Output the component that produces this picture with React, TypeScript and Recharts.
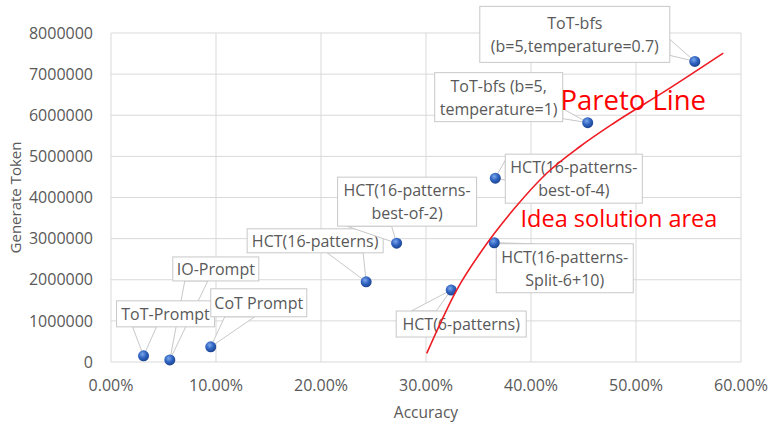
import React from 'react';
import { ScatterChart, Scatter, XAxis, YAxis, CartesianGrid, Label } from 'recharts';

// ---------- data ----------
const METHODS = [
  'ToT-Prompt',
  'IO-Prompt',
  'CoT Prompt',
  'HCT(16-patterns)',
  'HCT(16-patterns-\nbest-of-2)',
  'HCT(6-patterns)',
  'HCT(16-patterns-\nSplit-6+10)',
  'HCT(16-patterns-\nbest-of-4)',
  'ToT-bfs (b=5,\ntemperature=1)',
  'ToT-bfs\n(b=5,temperature=0.7)',
];
const ACCURACY = [0.031, 0.056, 0.095, 0.243, 0.272, 0.324, 0.365, 0.366, 0.454, 0.556];
const TOKENS = [150000, 50000, 370000, 1950000, 2890000, 1750000, 2900000, 4470000, 5820000, 7310000];

const PARETO_ACC = [0.3007, 0.3292, 0.3546, 0.3831, 0.415, 0.4467, 0.4784, 0.5292, 0.5831];
const PARETO_TOK = [210000, 1750000, 2760000, 3700000, 4590000, 5240000, 5800000, 6610000, 7510000];

const ANNOT_TEXT = ['Pareto Line', 'Idea solution area'];
const ANNOT_ACC = [0.428, 0.39];
const ANNOT_TOK = [6130000, 3280000];

const X_TICKS = [0, 0.1, 0.2, 0.3, 0.4, 0.5, 0.6];
const Y_TICKS = [0, 1000000, 2000000, 3000000, 4000000, 5000000, 6000000, 7000000, 8000000];

// ---------- layout / style (pixel offsets relative to each point) ----------
// dx, dy: box top-left offset; w, h: box size; a, b: wedge base points
const CALLOUT_LAYOUT = [
  { dx: -27, dy: -55, w: 98, h: 26, a: [-11, -29], b: [13, -29] },
  { dx: 3, dy: -103, w: 86, h: 24, a: [15, -79], b: [38, -79] },
  { dx: 0, dy: -58, w: 96, h: 28, a: [14, -30], b: [44, -30] },
  { dx: -119, dy: -53, w: 136, h: 24, a: [-39, -29], b: [-3, -29] },
  { dx: -59, dy: -66, w: 139, h: 49, a: [-50, -17], b: [-5, -17] },
  { dx: -55, dy: 21, w: 130, h: 26, a: [-40, 21], b: [-15, 21] },
  { dx: 2, dy: 1, w: 137, h: 49, a: [10, 1], b: [40, 1] },
  { dx: 10, dy: -24, w: 137, h: 49, a: [10, -18], b: [10, 2] },
  { dx: -153, dy: -50, w: 128, h: 49, a: [-25, -14], b: [-25, -4] },
  { dx: -215, dy: -55, w: 190, h: 56, a: [-25, -22], b: [-25, -6] },
];
const DRAW_ORDER = [1, 0, 2, 3, 4, 5, 6, 7, 8, 9];
const ANNOT_SIZE = [27.5, 23.5];

const FONT = '"Open Sans", "Noto Sans", sans-serif';
const TEXT_GRAY = '#595959';

const pointData = ACCURACY.map((x, i) => ({ x, y: TOKENS[i], name: METHODS[i], idx: i }));
const calloutData = DRAW_ORDER.map((i) => pointData[i]);
const paretoData = PARETO_ACC.map((x, i) => ({ x, y: PARETO_TOK[i] }));
const annotData = ANNOT_TEXT.map((t, i) => ({ x: ANNOT_ACC[i], y: ANNOT_TOK[i], text: t, idx: i }));

const CalloutShape = (props: any) => {
  const { cx, cy, payload } = props;
  if (cx == null || cy == null || !payload) return <g />;
  const L = CALLOUT_LAYOUT[payload.idx];
  const bx = cx + L.dx;
  const by = cy + L.dy;
  const lines = String(payload.name).split('\n');
  const n = lines.length;
  return (
    <g>
      <polygon
        points={`${cx + L.a[0]},${cy + L.a[1]} ${cx},${cy} ${cx + L.b[0]},${cy + L.b[1]}`}
        fill="#ffffff"
        stroke="#c8c8c8"
        strokeWidth={1}
      />
      <rect x={bx} y={by} width={L.w} height={L.h} fill="#ffffff" stroke="#c8c8c8" strokeWidth={1} />
      <text fontFamily={FONT} fontSize={16} fill={TEXT_GRAY} textAnchor="middle">
        {lines.map((t, i) => (
          <tspan key={i} x={bx + L.w / 2} y={by + L.h / 2 + (i - (n - 1) / 2) * 23 + 6}>
            {t}
          </tspan>
        ))}
      </text>
    </g>
  );
};

const PointShape = (props: any) => {
  const { cx, cy } = props;
  if (cx == null || cy == null) return <g />;
  return (
    <g>
      <defs>
        <radialGradient id="ptGrad" cx="40%" cy="35%" r="65%">
          <stop offset="0%" stopColor="#7aa6ea" />
          <stop offset="55%" stopColor="#2f62c0" />
          <stop offset="100%" stopColor="#1d4590" />
        </radialGradient>
      </defs>
      <circle cx={cx} cy={cy} r={5.5} fill="url(#ptGrad)" />
    </g>
  );
};

const NoShape = () => <g />;

const AnnotShape = (props: any) => {
  const { cx, cy, payload } = props;
  if (cx == null || cy == null || !payload) return <g />;
  return (
    <text x={cx} y={cy} fontFamily={FONT} fontSize={ANNOT_SIZE[payload.idx]} fill="#ff0000" textAnchor="start">
      {payload.text}
    </text>
  );
};

const YLabel = (props: any) => {
  const vb = props.viewBox || { x: 0, y: 33, width: 111, height: 329 };
  const x = 15;
  const y = vb.y + vb.height / 2;
  return (
    <text
      x={x}
      y={y}
      transform={`rotate(-90 ${x} ${y})`}
      textAnchor="middle"
      dominantBaseline="central"
      fontFamily={FONT}
      fontSize={15}
      fill={TEXT_GRAY}
    >
      Generate Token
    </text>
  );
};

const XLabel = (props: any) => {
  const vb = props.viewBox || { x: 111, y: 362, width: 630, height: 62 };
  return (
    <text
      x={vb.x + vb.width / 2}
      y={vb.y + 56}
      textAnchor="middle"
      fontFamily={FONT}
      fontSize={15.5}
      fill={TEXT_GRAY}
    >
      Accuracy
    </text>
  );
};

const fmtPct = (v: number) => `${(v * 100).toFixed(2)}%`;

export default function App() {
  return (
    <div style={{ position: 'absolute', left: 0, top: 0, width: 770, height: 424, background: '#fff', fontFamily: FONT }}>
      <ScatterChart width={770} height={424} margin={{ top: 33, right: 29, bottom: 0, left: 0 }}>
        <CartesianGrid stroke="#d9d9d9" strokeWidth={1} />
        <XAxis
          type="number"
          dataKey="x"
          domain={[0, 0.6]}
          ticks={X_TICKS}
          tickFormatter={fmtPct}
          axisLine={false}
          tickLine={false}
          tickSize={0}
          tickMargin={18}
          height={62}
          tick={{ fill: TEXT_GRAY, fontSize: 16, fontFamily: FONT }}
        >
          <Label content={<XLabel />} />
        </XAxis>
        <YAxis
          type="number"
          dataKey="y"
          domain={[0, 8000000]}
          ticks={Y_TICKS}
          axisLine={false}
          tickLine={false}
          tickSize={0}
          tickMargin={18}
          width={111}
          tick={{ fill: TEXT_GRAY, fontSize: 16, fontFamily: FONT }}
        >
          <Label content={<YLabel />} />
        </YAxis>
        <Scatter data={calloutData} shape={CalloutShape} isAnimationActive={false} />
        <Scatter data={pointData} shape={PointShape} isAnimationActive={false} />
        <Scatter
          data={paretoData}
          shape={NoShape}
          line={{ stroke: '#ee1c24', strokeWidth: 1.6 }}
          lineJointType="monotoneX"
          isAnimationActive={false}
        />
        <Scatter data={annotData} shape={AnnotShape} isAnimationActive={false} />
      </ScatterChart>
    </div>
  );
}
